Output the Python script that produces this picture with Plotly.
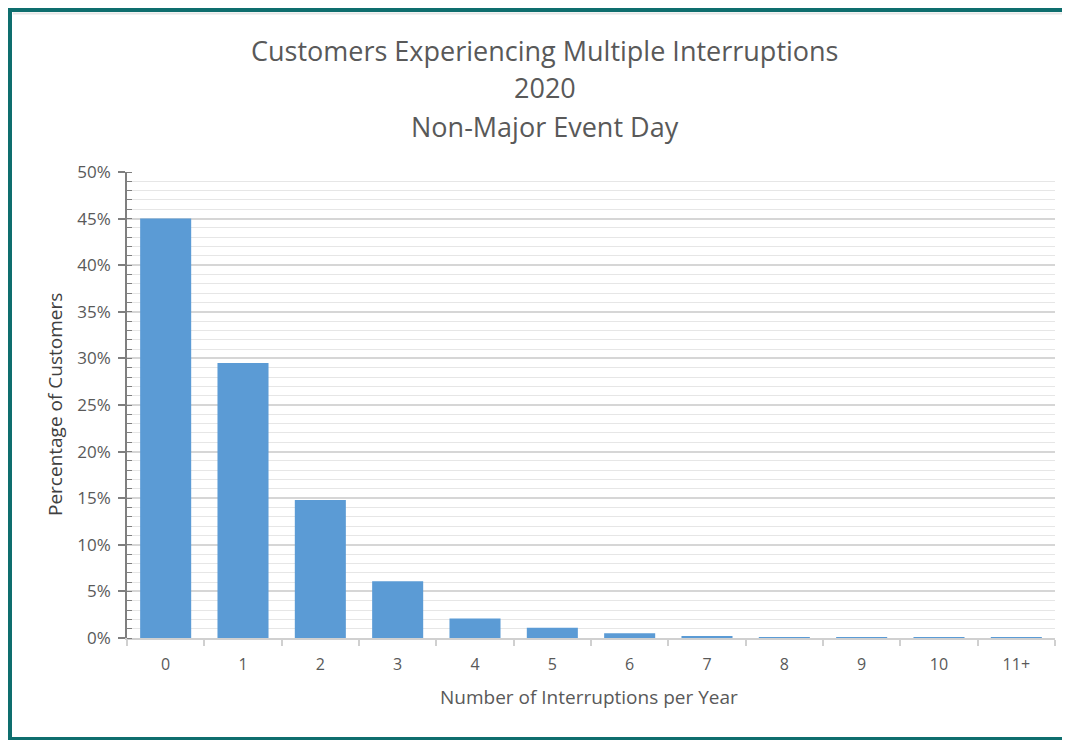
import plotly.graph_objects as go

categories = ["0", "1", "2", "3", "4", "5", "6", "7", "8", "9", "10", "11+"]
pct_customers = [45.0, 29.5, 14.8, 6.1, 2.1, 1.1, 0.5, 0.2, 0.03, 0.01, 0.01, 0.01]
title_lines = ["Customers Experiencing Multiple Interruptions", "2020", "Non-Major Event Day"]
y_tickvals = [0, 5, 10, 15, 20, 25, 30, 35, 40, 45, 50]
y_ticktext = ["0%", "5%", "10%", "15%", "20%", "25%", "30%", "35%", "40%", "45%", "50%"]

# page body has an 8px margin; work in reference pixel coords and shift
OFF = 8
W, H = 1070 - OFF, 740 - OFF
# reference plot area: x 127..1055, y 172..638
PL, PR, PT, PB = 127 - OFF, 1055 - OFF, 172 - OFF, 638 - OFF
L, R, T, B = PL, W - PR, PT, H - PB
pw, ph = PR - PL, PB - PT


def px_x(px):
    return (px - OFF - PL) / pw


def px_y(py):
    return (PB - (py - OFF)) / ph


txt = "#595959"
font = "Open Sans"

fig = go.Figure()
fig.add_trace(go.Bar(
    x=categories, y=pct_customers,
    marker=dict(color="#5b9bd5", line=dict(width=0)),
    hoverinfo="x+y",
))

annotations = []
for line, py in zip(title_lines, [50, 88, 127]):
    annotations.append(dict(text=line, x=px_x(545), y=px_y(py), xref="paper", yref="paper",
                            showarrow=False, xanchor="center", yanchor="middle",
                            font=dict(family=font, size=27, color=txt)))
annotations.append(dict(text="Percentage of Customers", x=px_x(55), y=px_y(405), xref="paper", yref="paper",
                        showarrow=False, textangle=-90, xanchor="center", yanchor="middle",
                        font=dict(family=font, size=19, color="#404040")))
annotations.append(dict(text="Number of Interruptions per Year", x=px_x(589), y=px_y(697), xref="paper", yref="paper",
                        showarrow=False, xanchor="center", yanchor="middle",
                        font=dict(family=font, size=19, color=txt)))

teal = "#0e6e6e"
shapes = [
    dict(type="line", xref="paper", yref="paper", x0=px_x(9.5), x1=px_x(9.5), y0=px_y(7), y1=px_y(760),
         line=dict(color=teal, width=5)),
    dict(type="line", xref="paper", yref="paper", x0=px_x(7), x1=px_x(1090), y0=px_y(9.5), y1=px_y(9.5),
         line=dict(color=teal, width=5)),
    dict(type="line", xref="paper", yref="paper", x0=px_x(7), x1=px_x(1090), y0=px_y(739), y1=px_y(739),
         line=dict(color=teal, width=4)),
    dict(type="line", xref="paper", yref="paper", x0=px_x(13), x1=px_x(1090), y0=px_y(13.5), y1=px_y(13.5),
         line=dict(color="#e6e6e6", width=2)),
]

fig.update_layout(
    width=W, height=H,
    margin=dict(l=L, r=R, t=T, b=B, autoexpand=False),
    paper_bgcolor="white", plot_bgcolor="white",
    bargap=0.34,
    showlegend=False,
    annotations=annotations,
    shapes=shapes,
    font=dict(family=font, color=txt),
)
fig.update_yaxes(
    range=[0, 50], tickmode="array", tickvals=y_tickvals, ticktext=y_ticktext,
    tickfont=dict(family=font, size=17, color=txt),
    showgrid=True, gridcolor="#d6d6d6", gridwidth=1.5,
    showline=True, linecolor="#7f7f7f", linewidth=1.5,
    ticks="outside", ticklen=7, tickcolor="#7f7f7f", tickwidth=1.5,
    ticklabelstandoff=4,
    zeroline=False,
    minor=dict(dtick=1, showgrid=True, gridcolor="#e6e6e6", gridwidth=1,
               ticks="inside", ticklen=5, tickcolor="#7f7f7f", tickwidth=1),
)
fig.update_xaxes(
    type="category",
    tickfont=dict(family=font, size=16, color=txt),
    showline=True, linecolor="#d0d0d0", linewidth=1.5,
    ticks="outside", tickson="boundaries", ticklen=6, tickcolor="#d0d0d0", tickwidth=1.5,
    ticklabelstandoff=11,
    showgrid=False,
)

fig.write_html("out.html")
